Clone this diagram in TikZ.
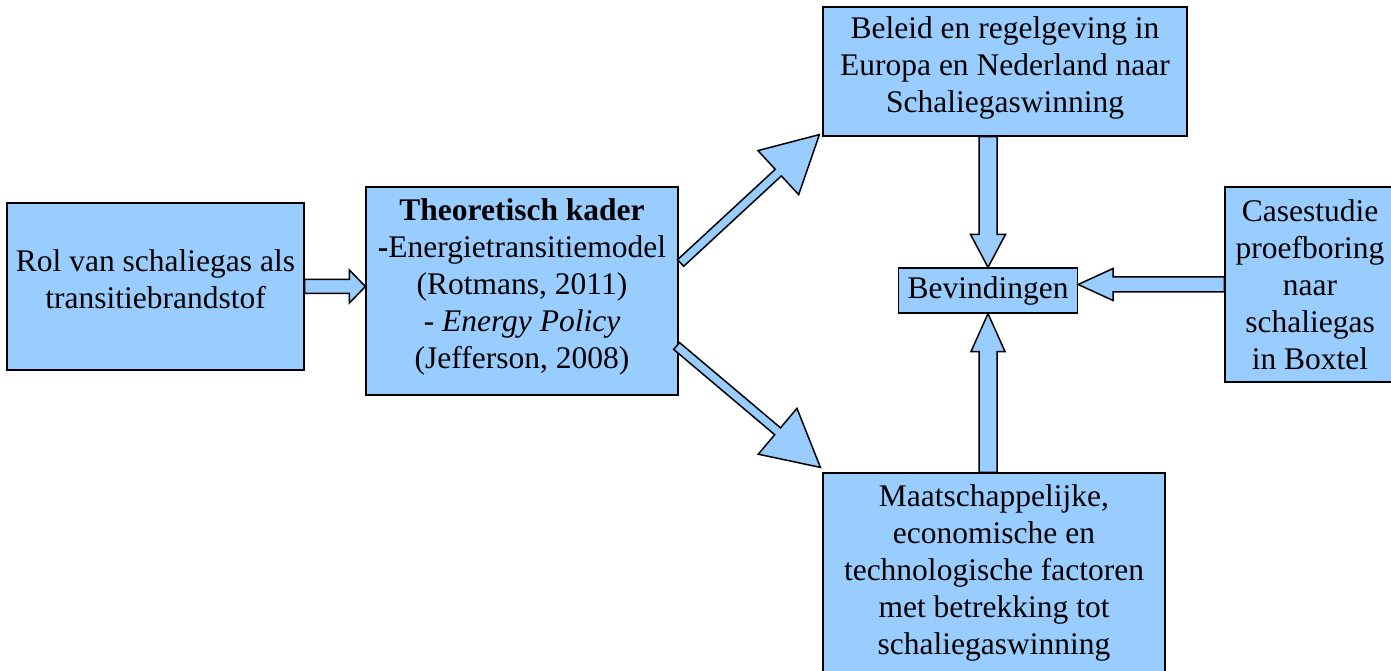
\documentclass[tikz,border=0pt]{standalone}
\usepackage{fontspec}
\setmainfont{Liberation Serif}
\usetikzlibrary{calc}
\definecolor{boxblue}{HTML}{99CCFF}
\newcommand{\blockarrow}[5]{%
    \coordinate (neck) at ($(#2)!#5!(#1)$);
    \draw[flow] ($(#1)!#3!90:(#2)$) -- ($(neck)!#3!90:(#2)$) -- ($(neck)!#4!90:(#2)$) -- (#2)
        -- ($(neck)!#4!-90:(#2)$) -- ($(neck)!#3!-90:(#2)$) -- ($(#1)!#3!-90:(#2)$) -- cycle;
}

\begin{document}
\begin{tikzpicture}[x=1pt, y=1pt,
    box/.style={draw=black, line width=1.2pt, fill=boxblue, align=center, inner sep=0pt,
        font=\fontsize{31.5}{37}\selectfont},
    flow/.style={draw=black, line width=1.5pt, fill=boxblue}]
    \useasboundingbox (0,0) rectangle (1391,671);
    \clip (0,0) rectangle (1391,671);

    \node[box, minimum width=297pt, minimum height=167pt, text depth=14pt] (rol) at (155.5,384.5) {Rol van schaliegas als\\transitiebrandstof};
    \node[box, minimum width=312pt, minimum height=208pt, text depth=15pt] (theo) at (522,380) {\textbf{Theoretisch kader}\\\textbf{-}Energietransitiemodel\\(Rotmans, 2011)\\- \textit{Energy Policy}\\(Jefferson, 2008)};
    \node[box, minimum width=364pt, minimum height=129pt, text depth=13pt] (beleid) at (1005,599.5) {Beleid en regelgeving in\\Europa en Nederland naar\\Schaliegaswinning};
    \node[box, minimum width=179pt, minimum height=45pt] (bev) at (988,380.5) {Bevindingen};
    \node[box, minimum width=170pt, minimum height=195pt] (case) at (1310,386.5) {Casestudie\\proefboring\\naar\\schaliegas\\in Boxtel};
    \node[box, minimum width=342pt, minimum height=199pt] (maat) at (994,98.5) {Maatschappelijke,\\economische en\\technologische factoren\\met betrekking tot\\schaliegaswinning};

    \coordinate (t1) at (rol.east -| theo.west);
    \blockarrow{rol.east}{t1}{7pt}{16.5pt}{16pt}

    \coordinate (s2) at ($(theo.east)+(2,28)$);
    \coordinate (t2) at ($(beleid.south west)+(-3,2)$);
    \blockarrow{s2}{t2}{4.5pt}{30pt}{56pt}

    \coordinate (s3) at ($(theo.east)+(-2,-55)$);
    \coordinate (t3) at ($(maat.north west)+(-2,5)$);
    \blockarrow{s3}{t3}{4.5pt}{30pt}{56pt}

    \coordinate (s4) at (bev.north |- beleid.south);
    \blockarrow{s4}{bev.north}{9pt}{17.5pt}{33pt}

    \coordinate (s5) at (bev.south |- maat.north);
    \blockarrow{s5}{bev.south}{9pt}{17pt}{38pt}

    \coordinate (t6) at (case.west -| bev.east);
    \blockarrow{case.west}{t6}{7.5pt}{16pt}{35pt}
\end{tikzpicture}
\end{document}
